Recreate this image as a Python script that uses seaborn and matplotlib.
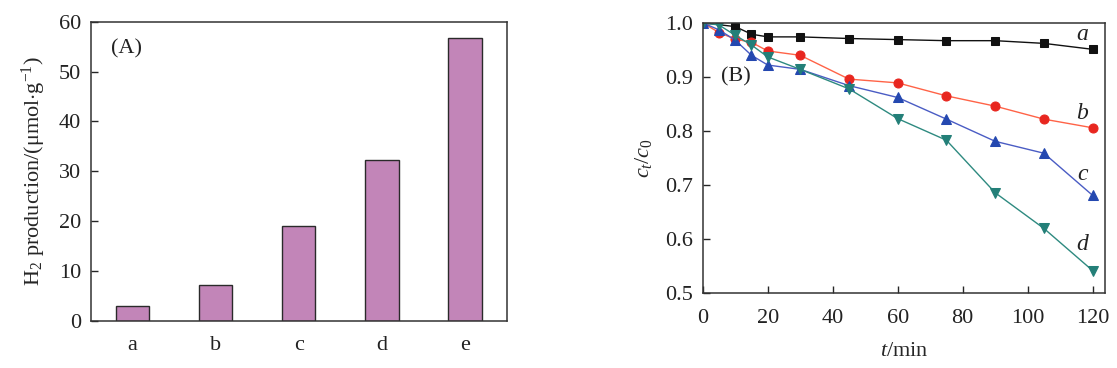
import matplotlib
matplotlib.use("Agg")
import matplotlib.pyplot as plt
import seaborn as sns
import pandas as pd

# panel A: H2 production
samples = ['a', 'b', 'c', 'd', 'e']
h2_prod = [2.9, 7.2, 19.0, 32.2, 56.8]

# panel B: degradation curves c_t/c_0
t_a = [0, 10, 15, 20, 30, 45, 60, 75, 90, 105, 120]
c_a = [1.0, 0.993, 0.979, 0.974, 0.974, 0.971, 0.969, 0.967, 0.967, 0.962, 0.951]
t_bcd = [0, 5, 10, 15, 20, 30, 45, 60, 75, 90, 105, 120]
c_b = [1.0, 0.982, 0.970, 0.964, 0.948, 0.940, 0.896, 0.889, 0.865, 0.846, 0.822, 0.806]
c_c = [1.0, 0.987, 0.968, 0.940, 0.922, 0.914, 0.884, 0.862, 0.822, 0.781, 0.759, 0.681]
c_d = [1.0, 0.996, 0.977, 0.959, 0.937, 0.914, 0.878, 0.823, 0.783, 0.686, 0.620, 0.542]

sns.set_style('ticks')
plt.rcParams['font.family'] = ['Liberation Serif', 'DejaVu Serif']
plt.rcParams['mathtext.fontset'] = 'custom'
plt.rcParams['mathtext.rm'] = 'Liberation Serif'
plt.rcParams['mathtext.it'] = 'Liberation Serif:italic'
plt.rcParams['axes.edgecolor'] = '#333333'
plt.rcParams['axes.linewidth'] = 1.1
plt.rcParams['text.color'] = '#222222'
plt.rcParams['xtick.labelcolor'] = '#222222'
plt.rcParams['ytick.labelcolor'] = '#222222'

fig = plt.figure(figsize=(11.17, 3.68), dpi=100)
ax1 = fig.add_axes([0.0812, 0.1285, 0.3724, 0.8125])
ax2 = fig.add_axes([0.6291, 0.2027, 0.3602, 0.7353])

fs = 16

# (A) bars
df_a = pd.DataFrame({'sample': samples, 'h2': h2_prod})
sns.barplot(data=df_a, x='sample', y='h2', ax=ax1, color='#c285b8',
            saturation=1, width=0.4, edgecolor='#2a2a2a', linewidth=1.0)
ax1.set_xlim(-0.5, 4.5)
ax1.set_ylim(0, 60)
ax1.set_yticks(range(0, 61, 10))
ax1.tick_params(axis='y', direction='in', length=5, width=1, labelsize=fs, pad=7)
ax1.tick_params(axis='x', length=0, labelsize=fs, pad=11)
ax1.set_xlabel('')
ax1.set_ylabel(r'H$_2$ production/($\mathrm{\mu}$mol$\cdot$g$^{-1}$)', fontsize=fs, labelpad=8)
ax1.text(0.05, 0.94, '(A)', transform=ax1.transAxes, fontsize=fs, va='top', ha='left')
for s in ax1.spines.values():
    s.set_visible(True)

# (B) curves
sns.lineplot(x=t_a, y=c_a, ax=ax2, color='#111111', marker='s', markersize=6,
             markeredgecolor='#111111', linewidth=1.0)
sns.lineplot(x=t_bcd, y=c_b, ax=ax2, color='#ff6347', marker='o', markersize=6.5,
             markerfacecolor='#e8261f', markeredgecolor='#e8261f', linewidth=1.0)
sns.lineplot(x=t_bcd, y=c_c, ax=ax2, color='#4a5cc4', marker='^', markersize=7.5,
             markerfacecolor='#2448b0', markeredgecolor='#2448b0', linewidth=1.0)
sns.lineplot(x=t_bcd, y=c_d, ax=ax2, color='#2e8a80', marker='v', markersize=7.5,
             markerfacecolor='#237f78', markeredgecolor='#237f78', linewidth=1.0)

ax2.set_xlim(0, 123.8)
ax2.set_ylim(0.5, 1.0)
ax2.set_xticks(range(0, 121, 20))
ax2.set_yticks([0.5, 0.6, 0.7, 0.8, 0.9, 1.0])
ax2.set_yticklabels(['0.5', '0.6', '0.7', '0.8', '0.9', '1.0'])
ax2.tick_params(axis='y', direction='in', length=5, width=1, labelsize=fs, pad=7)
ax2.tick_params(axis='x', direction='in', length=5, width=1, labelsize=fs, pad=11)
ax2.set_xlabel(r'$t$/min', fontsize=fs, labelpad=10)
ax2.set_ylabel(r'$c_t/c_0$', fontsize=fs, labelpad=8)
ax2.text(5.5, 0.90, '(B)', fontsize=fs, va='center', ha='left')
for lab, yy in zip(['a', 'b', 'c', 'd'], [0.978, 0.833, 0.72, 0.59]):
    ax2.text(116.8, yy, lab, fontsize=fs + 1, style='italic', va='center', ha='center')
for s in ax2.spines.values():
    s.set_visible(True)

fig.savefig('out.png', dpi=100)
